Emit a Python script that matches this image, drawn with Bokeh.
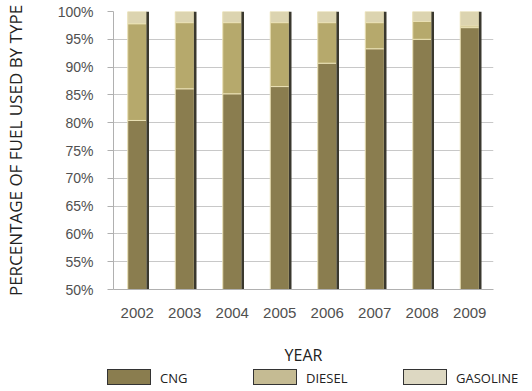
from bokeh.plotting import figure
from bokeh.layouts import column
from bokeh.models import Range1d, FixedTicker, CustomJSTickFormatter, Div
from bokeh.transform import dodge
from bokeh.embed import file_html
from bokeh.resources import INLINE

years = ["2002", "2003", "2004", "2005", "2006", "2007", "2008", "2009"]
cng = [80.4, 86.1, 85.2, 86.5, 90.7, 93.3, 95.0, 97.1]
diesel = [17.4, 11.9, 12.8, 11.5, 7.3, 4.7, 3.2, 0.3]
gasoline = [2.2, 2.0, 2.0, 2.0, 2.0, 2.0, 1.8, 2.6]
total = [c + d + g for c, d, g in zip(cng, diesel, gasoline)]
y_ticks = [50, 55, 60, 65, 70, 75, 80, 85, 90, 95, 100]

bar_colors = ["#8a7d4f", "#b6a96c", "#dcd4b0"]
legend_colors = ["#8a7d4f", "#c5bb93", "#ddd8c2"]
series = ["CNG", "DIESEL", "GASOLINE"]

data = dict(year=years, CNG=cng, DIESEL=diesel, GASOLINE=gasoline, total=total)

p = figure(x_range=years, y_range=Range1d(50, 100), width=532, height=368,
           output_backend="svg", toolbar_location=None, min_border_left=110,
           min_border_right=39, min_border_top=11, min_border_bottom=79)

p.vbar_stack(series, x="year", width=0.4, source=data, color=bar_colors,
             line_color="#e9e0b4", line_width=1)
p.vbar(x=dodge("year", 0.22, range=p.x_range), top="total", bottom=0,
       width=0.055, source=data, fill_color="#3a382e", line_color=None)

p.yaxis.ticker = FixedTicker(ticks=y_ticks)
p.yaxis.formatter = CustomJSTickFormatter(code="return tick + '%';")

p.xaxis.axis_label = "YEAR"
p.yaxis.axis_label = "PERCENTAGE OF FUEL USED BY TYPE"
for ax in (p.xaxis, p.yaxis):
    ax.axis_label_text_font = "Open Sans"
    ax.axis_label_text_font_style = "normal"
    ax.axis_label_text_color = "#222222"
    ax.major_label_text_font = "Liberation Sans"
    ax.major_label_text_color = "#505050"
    ax.axis_line_color = "#b0b0b0"
    ax.minor_tick_line_color = None
p.xaxis.axis_label_text_font_size = "16px"
p.yaxis.axis_label_text_font_size = "17px"
p.xaxis.major_label_text_font_size = "15px"
p.yaxis.major_label_text_font_size = "14px"
p.xaxis.major_label_standoff = 12
p.xaxis.axis_label_standoff = 23
p.yaxis.major_label_standoff = 14
p.yaxis.axis_label_standoff = 28
p.xaxis.major_tick_line_color = None
p.yaxis.major_tick_in = 0
p.yaxis.major_tick_out = 6
p.yaxis.major_tick_line_color = "#b0b0b0"

p.xgrid.grid_line_color = None
p.ygrid.grid_line_color = "#c8c8c8"
p.outline_line_color = None

# legend strip below the chart
swatch_left = [107, 253, 403]
parts = []
for name, col, x0 in zip(series, legend_colors, swatch_left):
    parts.append(
        f'<div style="position:absolute;left:{x0}px;top:1px;width:44px;height:16px;'
        f'background:{col};border:1px solid #333333;"></div>'
        f'<div style="position:absolute;left:{x0 + 53}px;top:1px;height:18px;'
        f'line-height:18px;font-family:\'Open Sans\';font-size:13px;color:#222222;'
        f'white-space:nowrap;">{name}</div>')
legend_div = Div(text='<div style="position:relative;width:532px;height:23px;">'
                 + "".join(parts) + "</div>",
                 width=532, height=23, margin=0)

layout = column(p, legend_div, spacing=0)
open("out.html", "w").write(file_html(layout, INLINE))
